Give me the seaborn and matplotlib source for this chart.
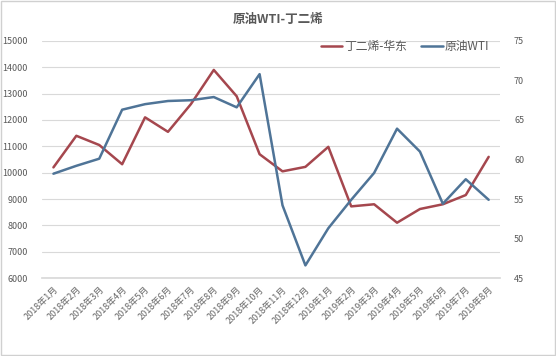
import numpy as np
import pandas as pd
import seaborn as sns
import matplotlib.pyplot as plt
from matplotlib.lines import Line2D
from matplotlib.patches import Rectangle

months = ['2018年1月', '2018年2月', '2018年3月', '2018年4月', '2018年5月', '2018年6月',
          '2018年7月', '2018年8月', '2018年9月', '2018年10月', '2018年11月', '2018年12月',
          '2019年1月', '2019年2月', '2019年3月', '2019年4月', '2019年5月', '2019年6月',
          '2019年7月', '2019年8月']

butadiene = [10200, 11400, 11050, 10320, 12100, 11550, 12600, 13900, 12900, 10700,
             10050, 10220, 10980, 8720, 8800, 8100, 8620, 8800, 9150, 10600]

wti = [58.2, 59.2, 60.1, 66.3, 67.0, 67.4, 67.5, 67.9, 66.6, 70.8,
       54.2, 46.6, 51.3, 54.9, 58.3, 63.9, 61.0, 54.4, 57.5, 54.9]

name_red = '丁二烯-华东'
name_blue = '原油WTI'
title = '原油WTI-丁二烯'

df = pd.DataFrame({'x': np.arange(len(months)), 'red': butadiene, 'blue': wti})

sns.set_theme(style='white')
plt.rcParams['font.family'] = ['Noto Sans CJK SC', 'DejaVu Sans']

red = '#a5474e'
blue = '#4f7497'
grey = '#595959'

fig = plt.figure(figsize=(5.56, 3.56), dpi=100)
fig.patches.append(Rectangle((0.002, 0.003), 0.996, 0.994, transform=fig.transFigure,
                             fill=False, edgecolor='#d0d0d0', linewidth=1))
ax = fig.add_axes([0.0755, 0.219, 0.824, 0.666])
ax2 = ax.twinx()

sns.lineplot(data=df, x='x', y='red', ax=ax, color=red, linewidth=1.8)
sns.lineplot(data=df, x='x', y='blue', ax=ax2, color=blue, linewidth=1.8)

ax.set_xlim(-0.5, len(months) - 0.5)
ax.set_ylim(6000, 15000)
ax.set_yticks(np.arange(6000, 15001, 1000))
ax2.set_ylim(45, 75)
ax2.set_yticks(np.arange(45, 76, 5))

ax.yaxis.grid(True, color='#d9d9d9', linewidth=0.8)
ax.set_axisbelow(True)
for a in (ax, ax2):
    for s in a.spines.values():
        s.set_visible(False)
    a.set_xlabel('')
    a.set_ylabel('')
    a.tick_params(axis='y', length=0, labelsize=6.5, labelcolor=grey, pad=10)
ax.spines['bottom'].set_visible(True)
ax.spines['bottom'].set_color('#d9d9d9')

ax.set_xticks(df['x'])
ax.set_xticklabels(months, rotation=45, ha='right', rotation_mode='anchor',
                   fontsize=6.5, color='#666666')
ax.tick_params(axis='x', length=0, pad=5)
ax.set_xticks(np.arange(-0.5, len(months)), minor=True)
ax.tick_params(axis='x', which='minor', length=3, color='#d9d9d9', width=0.8)

fig.text(0.5, 0.945, title, ha='center', va='center', fontsize=9,
         fontweight='bold', color=grey)

handles = [Line2D([], [], color=red, linewidth=1.8), Line2D([], [], color=blue, linewidth=1.8)]
ax.legend(handles, [name_red, name_blue], ncol=2, frameon=False, fontsize=8.5,
          loc='center right', bbox_to_anchor=(1.0, 0.975), handlelength=1.8,
          handletextpad=0.2, columnspacing=1.2, labelcolor=grey)

fig.savefig('out.png', dpi=100)
